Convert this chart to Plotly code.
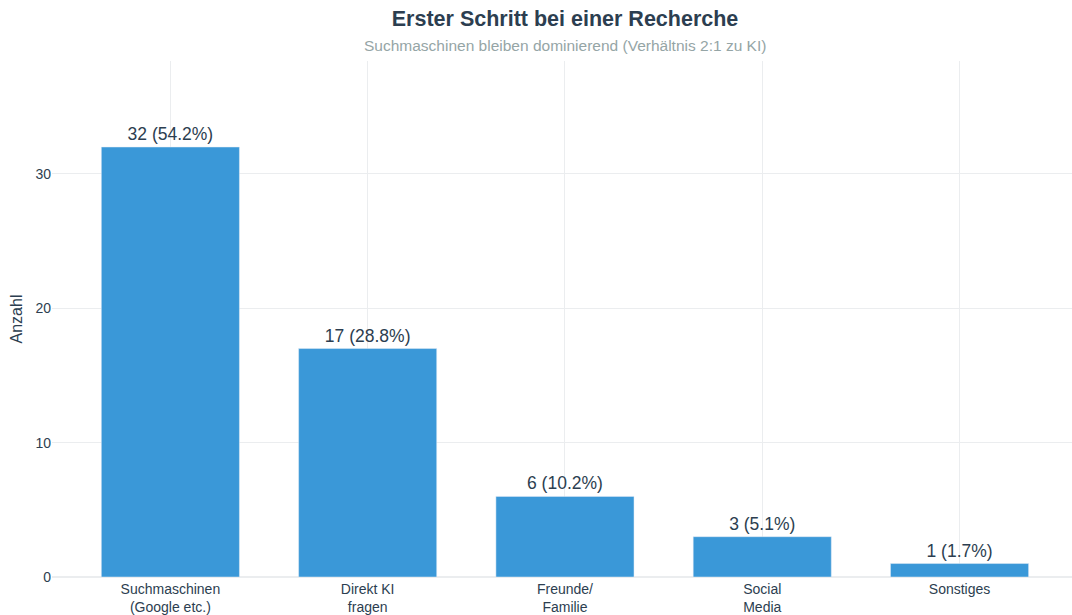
import plotly.graph_objects as go

categories = ["Suchmaschinen<br>(Google etc.)", "Direkt KI<br>fragen", "Freunde/<br>Familie", "Social<br>Media", "Sonstiges"]
counts = [32, 17, 6, 3, 1]
percents = [54.2, 28.8, 10.2, 5.1, 1.7]
labels = [f"{c} ({p}%)" for c, p in zip(counts, percents)]

fig = go.Figure(go.Bar(
    x=list(range(len(categories))), y=counts, text=labels, textposition="outside",
    textfont=dict(size=17.5, color="#2c3e50"), marker=dict(color="#3a98d8"),
    width=0.7, cliponaxis=False,
))

fig.update_layout(
    width=1072, height=615,
    margin=dict(l=52, r=0, t=61, b=38),
    paper_bgcolor="white", plot_bgcolor="white",
    font=dict(family="Liberation Sans, Arial, sans-serif", color="#2c3e50"),
    title=dict(text="<b>Erster Schritt bei einer Recherche</b>", xref="paper", x=0.503,
               xanchor="center", y=1 - 18 / 615, yanchor="middle",
               font=dict(size=21.5, color="#2c3e50")),
    annotations=[dict(text="Suchmaschinen bleiben dominierend (Verhältnis 2:1 zu KI)",
                      xref="paper", yref="paper", x=0.503, y=1, yshift=16, xanchor="center",
                      yanchor="middle", showarrow=False,
                      font=dict(size=15.5, color="#95a5a6"))],
    showlegend=False,
)
fig.update_xaxes(tickvals=list(range(len(categories))), ticktext=categories,
                 range=[-0.6, 4.57], showgrid=True, gridcolor="#ebedef",
                 tickfont=dict(size=14, color="#2c3e50"), ticks="", zeroline=False,
                 ticklabelstandoff=2, automargin=False)
fig.update_yaxes(range=[0, 38.4], tickvals=[0, 10, 20, 30], showgrid=True,
                 gridcolor="#ebedef", zeroline=True, zerolinecolor="#ebedef",
                 tickfont=dict(size=14, color="#2c3e50"), automargin=False,
                 title=dict(text="Anzahl", font=dict(size=16, color="#2c3e50"), standoff=8))

fig.write_html("out.html", post_script="document.body.style.margin='0';",
               config={"displayModeBar": False})
